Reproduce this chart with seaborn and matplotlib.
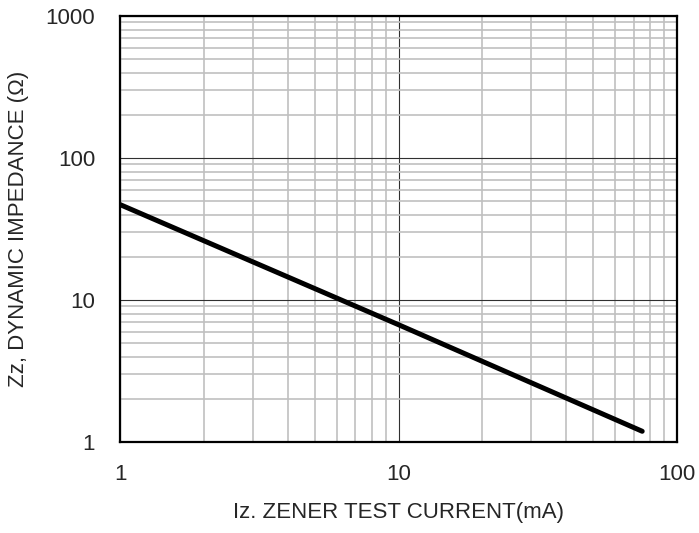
import matplotlib
matplotlib.use('Agg')
import matplotlib.pyplot as plt
import seaborn as sns
import pandas as pd
from matplotlib.ticker import LogLocator, NullFormatter, FixedFormatter, FixedLocator

# data
iz_ma = [1, 10, 75]
zz_ohm = [47, 6.7, 1.19]

x_ticks = [1, 10, 100]
x_tick_labels = ['1', '10', '100']
y_ticks = [1, 10, 100, 1000]
y_tick_labels = ['1', '10', '100', '1000']

df = pd.DataFrame({'iz': iz_ma, 'zz': zz_ohm})

sns.set_style('white')
plt.rcParams['font.family'] = ['Liberation Sans', 'DejaVu Sans']

fig = plt.figure(figsize=(6.99, 5.33), dpi=100)
ax = fig.add_axes([120 / 699, 1 - 442 / 533, 557 / 699, 426 / 533])

ax.set_xscale('log')
ax.set_yscale('log')
ax.set_xlim(1, 100)
ax.set_ylim(1, 1000)

ax.xaxis.set_major_locator(FixedLocator(x_ticks))
ax.xaxis.set_major_formatter(FixedFormatter(x_tick_labels))
ax.yaxis.set_major_locator(FixedLocator(y_ticks))
ax.yaxis.set_major_formatter(FixedFormatter(y_tick_labels))
ax.xaxis.set_minor_locator(LogLocator(base=10, subs=range(2, 10)))
ax.yaxis.set_minor_locator(LogLocator(base=10, subs=range(2, 10)))
ax.xaxis.set_minor_formatter(NullFormatter())
ax.yaxis.set_minor_formatter(NullFormatter())

ax.grid(which='minor', color='#c0c0c0', linewidth=1.2)
ax.grid(which='major', color='#303030', linewidth=0.8)
ax.set_axisbelow(True)

sns.lineplot(data=df, x='iz', y='zz', ax=ax, color='black', linewidth=3.6,
             solid_capstyle='round')

ax.tick_params(which='both', length=0, labelsize=16)
ax.tick_params(axis='x', pad=16)
ax.tick_params(axis='y', pad=18)
for s in ax.spines.values():
    s.set_color('black')
    s.set_linewidth(1.6)

ax.set_xlabel('Iz. ZENER TEST CURRENT(mA)', fontsize=16, labelpad=12)
ax.set_ylabel('Zz, DYNAMIC IMPEDANCE (\u03a9)', fontsize=16, labelpad=12)

plt.savefig('out.png', dpi=100)
